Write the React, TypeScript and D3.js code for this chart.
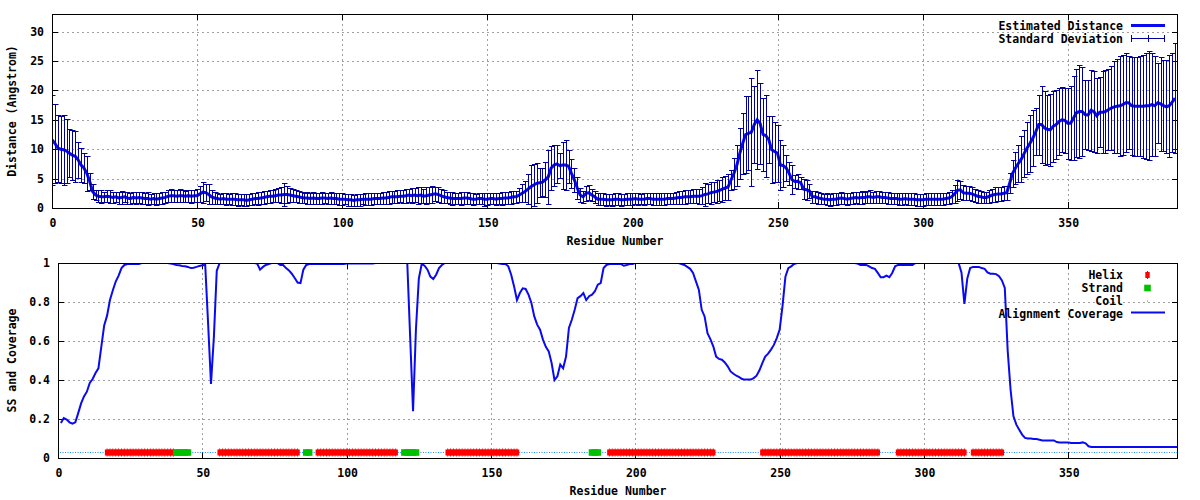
import React from 'react';
import * as d3 from 'd3';

// Estimated distance (Angstrom), residues 0..387
const distMean: number[] = [
  11.6, 11.0, 10.2, 10.0, 9.9, 9.7, 9.3, 9.0, 8.8, 8.2,
  7.3, 6.8, 5.9, 4.5, 2.8, 2.2, 2.0, 1.9, 1.9, 2.0,
  1.9, 1.8, 1.9, 1.7, 1.8, 1.9, 1.7, 1.6, 1.8, 1.7,
  1.8, 1.7, 1.6, 1.6, 1.5, 1.6, 1.5, 1.6, 1.7, 1.8,
  2.0, 2.1, 2.1, 2.0, 2.1, 2.1, 2.0, 2.1, 2.0, 2.1,
  2.1, 2.4, 2.7, 2.6, 2.3, 1.9, 1.7, 1.6, 1.5, 1.6,
  1.5, 1.5, 1.5, 1.5, 1.4, 1.4, 1.4, 1.3, 1.4, 1.5,
  1.6, 1.6, 1.7, 1.8, 1.9, 2.0, 2.0, 2.1, 2.2, 2.2,
  2.3, 2.3, 2.2, 2.1, 2.0, 1.9, 1.8, 1.7, 1.7, 1.6,
  1.7, 1.6, 1.6, 1.7, 1.7, 1.6, 1.7, 1.6, 1.6, 1.5,
  1.5, 1.5, 1.4, 1.4, 1.3, 1.4, 1.4, 1.5, 1.5, 1.5,
  1.5, 1.6, 1.6, 1.6, 1.7, 1.7, 1.8, 1.9, 1.9, 1.9,
  2.0, 2.0, 2.1, 2.2, 2.1, 2.2, 2.1, 2.2, 2.0, 2.1,
  2.2, 2.3, 2.4, 2.3, 2.1, 1.9, 1.8, 1.7, 1.6, 1.6,
  1.6, 1.6, 1.7, 1.7, 1.6, 1.5, 1.5, 1.6, 1.6, 1.5,
  1.5, 1.6, 1.6, 1.5, 1.6, 1.6, 1.7, 1.7, 1.8, 1.9,
  1.9, 2.2, 2.5, 2.8, 3.2, 3.6, 3.9, 4.2, 4.3, 4.4,
  4.8, 5.3, 6.8, 7.3, 7.5, 7.2, 7.3, 7.3, 7.1, 5.9,
  4.8, 3.4, 2.2, 1.9, 2.5, 2.6, 2.2, 1.9, 1.5, 1.5,
  1.5, 1.4, 1.4, 1.4, 1.5, 1.5, 1.4, 1.4, 1.5, 1.5,
  1.5, 1.6, 1.5, 1.5, 1.5, 1.6, 1.6, 1.5, 1.5, 1.5,
  1.5, 1.5, 1.6, 1.6, 1.6, 1.7, 1.8, 1.8, 1.9, 1.9,
  1.9, 2.0, 2.0, 2.0, 2.1, 2.3, 2.4, 2.6, 2.7, 2.8,
  3.0, 3.2, 3.4, 3.6, 4.8, 5.9, 7.3, 9.3, 11.0, 12.5,
  12.7, 12.9, 14.2, 15.0, 14.4, 12.5, 12.3, 11.6, 9.9, 9.6,
  9.3, 7.3, 7.2, 6.8, 5.9, 4.8, 4.5, 4.5, 4.3, 3.2,
  3.1, 2.9, 1.9, 1.9, 1.7, 1.6, 1.5, 1.5, 1.4, 1.5,
  1.5, 1.6, 1.7, 1.6, 1.5, 1.6, 1.7, 1.8, 1.7, 1.8,
  1.8, 1.9, 1.9, 1.8, 1.9, 1.9, 1.8, 1.8, 1.7, 1.6,
  1.6, 1.6, 1.5, 1.5, 1.6, 1.5, 1.5, 1.5, 1.4, 1.4,
  1.4, 1.5, 1.5, 1.5, 1.5, 1.5, 1.5, 1.5, 1.6, 1.7,
  1.9, 2.4, 3.0, 3.1, 2.6, 2.5, 2.5, 2.4, 2.2, 2.0,
  1.9, 1.8, 1.8, 2.0, 2.2, 2.3, 2.4, 2.4, 2.5, 2.6,
  4.2, 5.9, 6.8, 7.6, 8.3, 9.3, 10.2, 11.0, 11.9, 13.0,
  14.2, 14.2, 13.6, 13.4, 13.3, 13.9, 14.2, 14.7, 15.0, 14.9,
  14.4, 14.4, 15.3, 16.2, 16.4, 16.4, 15.9, 15.8, 16.6, 16.4,
  15.7, 16.3, 16.3, 16.4, 16.7, 17.0, 17.2, 17.3, 17.4, 17.6,
  17.9, 17.9, 17.4, 17.3, 17.3, 17.3, 17.3, 17.4, 17.4, 17.6,
  17.4, 17.9, 17.7, 17.4, 17.2, 17.4, 18.0, 18.7,
];

// Standard deviation, residues 0..387
const distStd: number[] = [
  7.7, 6.7, 5.7, 5.7, 6.0, 5.4, 4.1, 4.3, 4.3, 3.1,
  2.9, 2.6, 3.0, 1.5, 1.2, 0.9, 1.0, 1.1, 0.9, 1.0,
  1.1, 1.0, 0.9, 1.0, 1.1, 0.9, 1.0, 1.0, 0.9, 1.0,
  0.9, 1.0, 1.0, 1.1, 0.9, 1.0, 1.0, 0.9, 1.0, 1.0,
  1.0, 1.1, 1.0, 1.0, 1.1, 1.0, 0.9, 1.0, 1.1, 1.0,
  1.1, 1.3, 1.8, 1.4, 1.7, 1.2, 1.0, 1.0, 0.9, 1.0,
  1.0, 0.9, 1.0, 1.0, 1.0, 0.9, 1.0, 1.0, 0.9, 1.0,
  1.0, 1.1, 1.0, 1.1, 1.0, 1.1, 1.0, 1.1, 1.2, 1.3,
  1.9, 1.4, 1.2, 1.1, 1.0, 1.0, 1.0, 0.9, 1.0, 1.0,
  1.0, 0.9, 1.0, 1.0, 0.9, 1.0, 1.0, 1.0, 0.9, 1.0,
  1.0, 0.9, 1.0, 1.0, 0.9, 1.0, 1.0, 0.9, 1.0, 1.0,
  1.0, 1.0, 0.9, 1.0, 1.0, 1.0, 1.1, 1.0, 1.0, 1.1,
  1.0, 1.1, 1.2, 1.1, 1.3, 1.2, 1.4, 1.3, 1.2, 1.4,
  1.3, 1.4, 1.2, 1.3, 1.2, 1.1, 1.0, 1.0, 1.1, 1.0,
  1.0, 1.1, 1.0, 1.0, 1.0, 1.0, 0.9, 1.0, 1.0, 1.1,
  1.0, 1.0, 1.0, 1.0, 1.0, 1.1, 1.0, 1.0, 1.1, 1.0,
  1.0, 1.2, 1.5, 1.8, 2.5, 3.7, 3.5, 3.4, 2.5, 2.4,
  3.0, 4.6, 3.7, 3.5, 3.3, 2.1, 4.0, 4.2, 2.8, 2.5,
  2.0, 1.8, 1.2, 1.0, 1.3, 1.3, 1.0, 1.0, 1.0, 1.0,
  1.0, 1.0, 0.9, 1.0, 1.0, 1.0, 1.0, 0.9, 1.0, 1.0,
  1.0, 1.0, 1.0, 0.9, 1.0, 1.0, 1.0, 1.0, 1.0, 1.0,
  1.0, 1.0, 1.0, 1.0, 1.0, 1.0, 1.1, 1.1, 1.2, 1.1,
  1.1, 1.2, 1.2, 1.3, 1.4, 1.9, 1.6, 1.9, 1.7, 2.0,
  1.8, 2.1, 2.0, 2.2, 1.7, 2.6, 3.5, 4.3, 5.2, 6.5,
  6.3, 9.2, 6.5, 8.4, 6.9, 6.2, 7.0, 4.0, 5.7, 5.1,
  4.9, 4.3, 3.6, 2.2, 2.0, 2.5, 1.1, 1.2, 1.0, 1.7,
  1.7, 1.2, 1.0, 1.0, 1.0, 1.0, 0.9, 1.0, 1.0, 1.0,
  1.0, 1.0, 1.0, 1.0, 1.0, 1.0, 1.0, 1.0, 1.0, 1.1,
  1.0, 1.0, 1.1, 1.0, 1.0, 1.0, 1.0, 1.0, 1.0, 1.0,
  1.0, 1.0, 1.0, 1.0, 1.0, 1.0, 1.0, 1.0, 1.0, 1.0,
  1.0, 1.0, 1.0, 1.0, 1.0, 1.0, 1.0, 1.0, 1.0, 1.0,
  1.1, 1.5, 1.8, 1.5, 1.3, 1.2, 1.2, 1.2, 1.1, 1.1,
  1.0, 1.0, 1.0, 1.1, 1.1, 1.2, 1.2, 1.2, 1.2, 1.2,
  1.7, 2.3, 2.8, 3.2, 3.9, 4.0, 4.5, 4.9, 4.8, 4.0,
  5.1, 6.5, 6.3, 5.9, 6.1, 6.0, 5.9, 5.7, 5.5, 5.5,
  6.0, 6.3, 7.2, 7.5, 7.9, 7.6, 5.9, 6.0, 6.9, 6.9,
  6.4, 6.0, 7.0, 7.1, 6.9, 7.1, 7.8, 8.0, 8.5, 8.5,
  8.4, 7.9, 8.3, 8.4, 8.4, 8.5, 8.8, 9.0, 9.3, 8.8,
  8.5, 6.8, 8.0, 7.7, 7.9, 8.7, 8.4, 9.4,
];

// Alignment coverage, residues 1..388
const coverage: number[] = [
  0.18, 0.205, 0.197, 0.183, 0.176, 0.183, 0.23, 0.28, 0.316, 0.34,
  0.385, 0.405, 0.436, 0.46, 0.57, 0.68, 0.73, 0.81, 0.86, 0.905,
  0.935, 0.974, 0.99, 0.995, 0.995, 0.995, 0.995, 0.995, 1, 1,
  1, 1, 1, 1, 1, 1, 1, 1, 0.997, 0.995,
  0.99, 0.988, 0.985, 0.983, 0.98, 0.974, 0.976, 0.98, 0.985, 0.988,
  0.99, 0.69, 0.38, 0.62, 0.96, 1, 1, 1, 1, 1,
  1, 1, 1, 1, 1, 1, 1, 1, 0.997, 0.966,
  0.98, 0.99, 0.995, 1, 1, 1, 0.99, 0.99, 0.974, 0.962,
  0.945, 0.923, 0.9, 0.897, 0.966, 0.99, 0.995, 0.995, 0.995, 0.995,
  0.995, 0.995, 0.995, 0.995, 0.995, 0.995, 0.995, 0.995, 0.995, 0.997,
  0.997, 0.997, 0.997, 0.997, 0.997, 0.997, 0.997, 0.997, 0.997, 1,
  1, 1, 1, 1, 1, 1, 1, 1, 1, 1,
  1, 0.62, 0.24, 0.66, 0.92, 0.995, 0.986, 0.966, 0.93, 0.918,
  0.94, 0.974, 0.99, 1, 1, 1, 1, 1, 1, 1,
  1, 1, 1, 1, 1, 1, 1, 1, 1, 1,
  1, 1, 0.997, 0.995, 0.995, 0.983, 0.94, 0.88, 0.81, 0.846,
  0.87, 0.867, 0.838, 0.795, 0.726, 0.684, 0.658, 0.607, 0.57, 0.547,
  0.487, 0.4, 0.419, 0.479, 0.46, 0.52, 0.667, 0.709, 0.76, 0.82,
  0.83, 0.846, 0.81, 0.83, 0.838, 0.855, 0.889, 0.897, 0.974, 0.99,
  0.995, 0.995, 0.995, 0.995, 0.995, 0.986, 0.99, 0.995, 0.995, 1,
  1, 1, 1, 1, 1, 1, 1, 1, 1, 1,
  1, 1, 1, 1, 1, 0.995, 0.99, 0.98, 0.97, 0.949,
  0.906, 0.863, 0.76, 0.726, 0.64, 0.61, 0.573, 0.52, 0.508, 0.504,
  0.49, 0.47, 0.444, 0.432, 0.422, 0.415, 0.405, 0.402, 0.402, 0.402,
  0.41, 0.422, 0.45, 0.487, 0.52, 0.535, 0.556, 0.58, 0.615, 0.658,
  0.78, 0.93, 0.974, 0.983, 0.995, 1, 1, 1, 1, 1,
  1, 1, 1, 1, 1, 1, 1, 1, 1, 1,
  1, 1, 1, 1, 1, 1, 0.997, 0.99, 0.99, 0.99,
  0.983, 0.974, 0.97, 0.949, 0.927, 0.927, 0.935, 0.927, 0.949, 0.983,
  0.99, 0.99, 0.99, 0.99, 0.99, 0.99, 1, 1, 1, 1,
  1, 1, 1, 1, 1, 1, 1, 1, 1, 1,
  1, 1, 0.95, 0.79, 0.92, 0.974, 0.98, 0.98, 0.98, 0.974,
  0.97, 0.952, 0.945, 0.945, 0.943, 0.932, 0.911, 0.872, 0.55, 0.35,
  0.214, 0.171, 0.145, 0.12, 0.103, 0.1, 0.1, 0.098, 0.097, 0.094,
  0.09, 0.09, 0.09, 0.09, 0.09, 0.082, 0.08, 0.08, 0.08, 0.08,
  0.077, 0.077, 0.077, 0.077, 0.08, 0.075, 0.06, 0.056, 0.056, 0.056,
  0.056, 0.056, 0.056, 0.056, 0.056, 0.056, 0.056, 0.056, 0.056, 0.056,
  0.056, 0.056, 0.056, 0.056, 0.056, 0.056, 0.056, 0.056, 0.056, 0.056,
  0.056, 0.056, 0.056, 0.056, 0.056, 0.056, 0.056, 0.056,
];

// Secondary structure ranges (residue numbers, inclusive)
const helixRanges: [number, number][] = [
  [17, 40], [56, 83], [90, 117], [135, 159], [191, 227], [244, 284], [291, 314], [317, 327],
];
const strandRanges: [number, number][] = [
  [41, 45], [86, 87], [120, 124], [185, 187],
];
const ssLevel = 0.03;
const residueCount = 388;

const xTickValues = [0, 50, 100, 150, 200, 250, 300, 350];
const distTickValues = [0, 5, 10, 15, 20, 25, 30];
const covTickValues = [0, 0.2, 0.4, 0.6, 0.8, 1];
const covTickLabels = ['0', '0.2', '0.4', '0.6', '0.8', '1'];

const FONT = "'DejaVu Sans Mono', 'Liberation Mono', monospace";
const FS = 11.5;
const LINE_BLUE = '#0a0af0';
const ERR_BLUE = '#00009c';
const HELIX_RED = '#ff0000';
const STRAND_GREEN = '#00c000';
const COIL_BLUE = '#1a88ff';

const topBox = { left: 52, right: 1178, top: 14, bottom: 208 };
const botBox = { left: 58, right: 1178, top: 263, bottom: 458 };

function Frame({ box, x, y, xTicks, yTicks, yLabels, clipId }: any) {
  const tl = 6;
  return (
    <g>
      <defs>
        <clipPath id={clipId}>
          <rect x={box.left} y={box.top} width={box.right - box.left} height={box.bottom - box.top} />
        </clipPath>
      </defs>
      {yTicks.map((t: number) => {
        const py = Math.round(y(t)) + 0.5;
        if (Math.abs(py - box.bottom) < 2 || Math.abs(py - box.top) < 2) return null;
        return <line key={'gy' + t} x1={box.left} x2={box.right} y1={py} y2={py} stroke="#a0a0a0" strokeWidth={1} strokeDasharray="2,3" />;
      })}
      {xTicks.map((t: number) => {
        const px = Math.round(x(t)) + 0.5;
        if (Math.abs(px - box.left) < 2) return null;
        return <line key={'gx' + t} x1={px} x2={px} y1={box.top} y2={box.bottom} stroke="#a0a0a0" strokeWidth={1} strokeDasharray="2,3" />;
      })}
      {yTicks.map((t: number) => {
        const py = Math.round(y(t)) + 0.5;
        return (
          <g key={'ty' + t}>
            <line x1={box.left} x2={box.left + tl} y1={py} y2={py} stroke="#000" />
            <line x1={box.right - tl} x2={box.right} y1={py} y2={py} stroke="#000" />
          </g>
        );
      })}
      {xTicks.map((t: number) => {
        const px = Math.round(x(t)) + 0.5;
        return (
          <g key={'tx' + t}>
            <line x1={px} x2={px} y1={box.bottom - tl} y2={box.bottom} stroke="#000" />
            <line x1={px} x2={px} y1={box.top} y2={box.top + tl} stroke="#000" />
          </g>
        );
      })}
      {yTicks.map((t: number, i: number) => (
        <text key={'ly' + t} x={box.left - 8} y={y(t)} dy="0.35em" textAnchor="end"
          fontFamily={FONT} fontSize={FS} fontWeight="bold">{yLabels[i]}</text>
      ))}
      {xTicks.map((t: number) => (
        <text key={'lx' + t} x={x(t) + 1} y={box.bottom + 15} dy="0.35em" textAnchor="middle"
          fontFamily={FONT} fontSize={FS} fontWeight="bold">{String(t)}</text>
      ))}
    </g>
  );
}

function Border({ box }: any) {
  return <rect x={box.left + 0.5} y={box.top + 0.5} width={box.right - box.left - 1} height={box.bottom - box.top}
    fill="none" stroke="#000" strokeWidth={1} />;
}

function HelixMark({ cx, cy }: { cx: number; cy: number }) {
  return (
    <g fill={HELIX_RED}>
      <rect x={cx - 2.2} y={cy - 3} width={4.4} height={6} />
      <rect x={cx - 0.5} y={cy - 4} width={1} height={8} />
    </g>
  );
}

export default function App() {
  const xTop = d3.scaleLinear().domain([0, residueCount]).range([topBox.left, topBox.right]);
  const yTop = d3.scaleLinear().domain([0, 33]).range([topBox.bottom, topBox.top]);
  const xBot = d3.scaleLinear().domain([0, residueCount]).range([botBox.left, botBox.right]);
  const yBot = d3.scaleLinear().domain([0, 1]).range([botBox.bottom, botBox.top]);

  const meanLine = d3.line<number>().x((_, i) => xTop(i)).y((d) => yTop(d))(distMean) || '';
  const covLine = d3.line<number>().x((_, i) => xBot(i + 1)).y((d) => yBot(d))(coverage) || '';

  const helixRes: number[] = [];
  helixRanges.forEach(([a, b]) => { for (let r = a; r <= b; r++) helixRes.push(r); });
  const strandRes: number[] = [];
  strandRanges.forEach(([a, b]) => { for (let r = a; r <= b; r++) strandRes.push(r); });
  const ssSet = new Set([...helixRes, ...strandRes]);
  const coilRuns: [number, number][] = [];
  let runStart = -1;
  for (let r = 1; r <= residueCount; r++) {
    const isCoil = !ssSet.has(r);
    if (isCoil && runStart < 0) runStart = r;
    if ((!isCoil || r === residueCount) && runStart >= 0) {
      coilRuns.push([runStart, isCoil ? r : r - 1]);
      runStart = -1;
    }
  }
  const ssY = Math.round(yBot(ssLevel)) + 0.5;

  const errBars = distMean.map((m, i) => {
    const s = distStd[i];
    const px = Math.round(xTop(i)) + 0.5;
    const y1 = Math.round(yTop(m - s)) + 0.5;
    const y2 = Math.round(yTop(m + s)) + 0.5;
    return `M${px},${y1}V${y2}M${px - 2.5},${y2}H${px + 3}M${px - 2.5},${y1}H${px + 3}`;
  }).join('');

  return (
    <svg width={1200} height={500} style={{ position: 'absolute', left: 0, top: 0, background: '#fff' }}>
      <rect x={0} y={0} width={1200} height={500} fill="#fff" />
      {/* ===== Top panel ===== */}
      <Frame box={topBox} x={xTop} y={yTop} xTicks={xTickValues} yTicks={distTickValues}
        yLabels={distTickValues.map(String)} clipId="clipTop" />
      <g clipPath="url(#clipTop)">
        <path d={meanLine} fill="none" stroke={LINE_BLUE} strokeWidth={3} strokeLinejoin="miter" />
        <path d={errBars} fill="none" stroke={ERR_BLUE} strokeWidth={1} />
      </g>
      <Border box={topBox} />
      <text x={(topBox.left + topBox.right) / 2} y={241} dy="0.35em" textAnchor="middle"
        fontFamily={FONT} fontSize={FS} fontWeight="bold">Residue Number</text>
      <text transform={`translate(12,${(topBox.top + topBox.bottom) / 2}) rotate(-90)`} dy="0.35em" textAnchor="middle"
        fontFamily={FONT} fontSize={FS} fontWeight="bold">Distance (Angstrom)</text>
      <text x={1123} y={26} dy="0.35em" textAnchor="end" fontFamily={FONT} fontSize={FS} fontWeight="bold">Estimated Distance</text>
      <line x1={1131} x2={1165} y1={25.5} y2={25.5} stroke={LINE_BLUE} strokeWidth={3} />
      <text x={1123} y={39} dy="0.35em" textAnchor="end" fontFamily={FONT} fontSize={FS} fontWeight="bold">Standard Deviation</text>
      <path d="M1131.5,38.5H1164.5M1131.5,35V42M1148.5,35V42M1164.5,35V42" fill="none" stroke={ERR_BLUE} strokeWidth={1} />

      {/* ===== Bottom panel ===== */}
      <Frame box={botBox} x={xBot} y={yBot} xTicks={xTickValues} yTicks={covTickValues}
        yLabels={covTickLabels} clipId="clipBot" />
      <g clipPath="url(#clipBot)">
        {coilRuns.map(([a, b]) => (
          <line key={'c' + a} x1={xBot(a - 0.3)} x2={xBot(b + 0.3)} y1={ssY} y2={ssY}
            stroke={COIL_BLUE} strokeWidth={1} strokeDasharray="1,1.5" />
        ))}
        {helixRes.map((r) => <HelixMark key={'h' + r} cx={xBot(r)} cy={ssY} />)}
        {strandRes.map((r) => (
          <rect key={'s' + r} x={xBot(r) - 3.3} y={ssY - 3.3} width={6.6} height={6.6} fill={STRAND_GREEN} />
        ))}
        <path d={covLine} fill="none" stroke={LINE_BLUE} strokeWidth={2} />
      </g>
      <Border box={botBox} />
      <text x={(botBox.left + botBox.right) / 2} y={491} dy="0.35em" textAnchor="middle"
        fontFamily={FONT} fontSize={FS} fontWeight="bold">Residue Number</text>
      <text transform={`translate(12,${(botBox.top + botBox.bottom) / 2}) rotate(-90)`} dy="0.35em" textAnchor="middle"
        fontFamily={FONT} fontSize={FS} fontWeight="bold">SS and Coverage</text>
      <text x={1123} y={275} dy="0.35em" textAnchor="end" fontFamily={FONT} fontSize={FS} fontWeight="bold">Helix</text>
      <HelixMark cx={1147.5} cy={275} />
      <text x={1123} y={288} dy="0.35em" textAnchor="end" fontFamily={FONT} fontSize={FS} fontWeight="bold">Strand</text>
      <rect x={1144.2} y={284.7} width={6.6} height={6.6} fill={STRAND_GREEN} />
      <text x={1123} y={301} dy="0.35em" textAnchor="end" fontFamily={FONT} fontSize={FS} fontWeight="bold">Coil</text>
      <rect x={1147} y={300.5} width={1} height={1} fill={COIL_BLUE} />
      <text x={1123} y={314} dy="0.35em" textAnchor="end" fontFamily={FONT} fontSize={FS} fontWeight="bold">Alignment Coverage</text>
      <line x1={1131} x2={1165} y1={312.5} y2={312.5} stroke={LINE_BLUE} strokeWidth={2} />
    </svg>
  );
}
